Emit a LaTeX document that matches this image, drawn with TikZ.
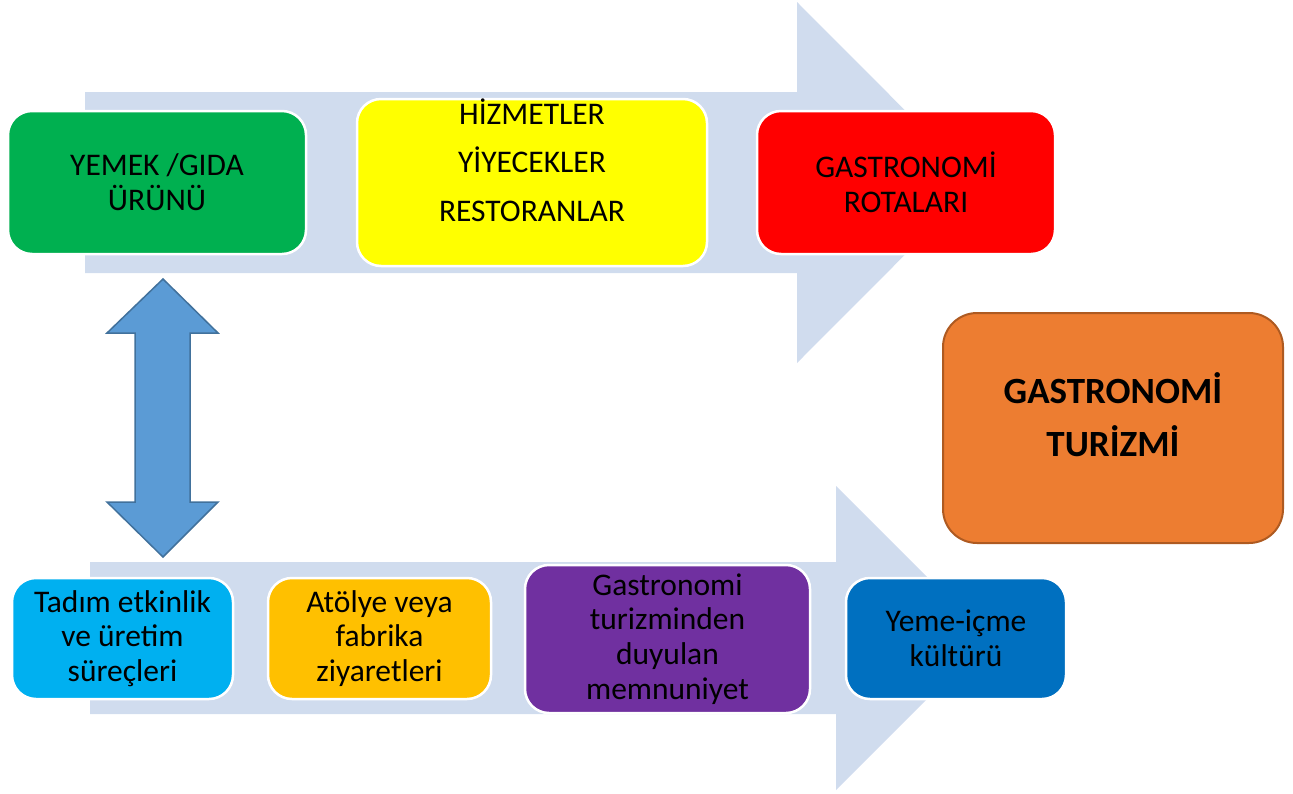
\documentclass[tikz,border=0pt]{standalone}
\usepackage{fontspec}
\setmainfont{Carlito}
\usetikzlibrary{calc}
\begin{document}
\begin{tikzpicture}[x=1pt,y=-1pt,
  bandfill/.style={fill={rgb,255:red,208;green,220;blue,238}},
  box/.style={rounded corners=24pt, draw=white, line width=2.5pt, inner sep=0pt,
     align=center, text=black, font=\fontsize{31.5}{34.8}\selectfont},
  txt/.style={inner sep=0pt, align=center, text=black},
  dblarrow/.style={fill={rgb,255:red,91;green,155;blue,213}, draw={rgb,255:red,65;green,113;blue,156}, line width=1.5pt, line join=miter}
]
\useasboundingbox (0,0) rectangle (1293,793);
% background band arrows
\fill[bandfill] (85,92) -- (797,92) -- (797,2) -- (977,182.5) -- (797,363) -- (797,273) -- (85,273) -- cycle;
\fill[bandfill] (90,562) -- (836,562) -- (836,486) -- (988,638) -- (836,790) -- (836,714) -- (90,714) -- cycle;

% top row
\node[box, fill={rgb,255:red,0;green,176;blue,80}, minimum width=298pt, minimum height=143pt] (yemek) at (157,182.5) {YEMEK /GIDA\\ÜRÜNÜ};
\node[box, fill={rgb,255:red,255;green,255;blue,0}, minimum width=350pt, minimum height=167pt] (hizmet) at (532,182.5) {};
\node[txt, font=\fontsize{31.5}{48.5}\selectfont] (hizmettxt) at (532,160) {HİZMETLER\\YİYECEKLER\\RESTORANLAR};
\node[box, fill={rgb,255:red,255;green,0;blue,0}, minimum width=298pt, minimum height=143pt] (rota) at (906,182.5) {GASTRONOMİ\\ROTALARI};

% main box
\node[box, rounded corners=34pt, fill={rgb,255:red,237;green,125;blue,49}, draw={rgb,255:red,174;green,90;blue,33}, line width=2pt, minimum width=340pt, minimum height=230pt] (turizm) at (1113,428) {};
\node[txt, font=\bfseries\fontsize{37}{53}\selectfont] (turizmtxt) at (1113,415) {GASTRONOMİ\\TURİZMİ};

% bottom row
\node[box, fill={rgb,255:red,0;green,176;blue,240}, minimum width=221pt, minimum height=121pt] (tadim) at (122.5,638.5) {Tadım etkinlik\\ve üretim\\süreçleri};
\node[box, fill={rgb,255:red,255;green,192;blue,0}, minimum width=223pt, minimum height=121pt] (atolye) at (379.5,638.5) {Atölye veya\\fabrika\\ziyaretleri};
\node[box, fill={rgb,255:red,112;green,48;blue,160}, minimum width=285pt, minimum height=148pt] (memnun) at (667.5,639) {Gastronomi\\turizminden\\duyulan\\memnuniyet};
\node[box, fill={rgb,255:red,0;green,112;blue,192}, minimum width=220pt, minimum height=121pt] (kultur) at (956,638.5) {Yeme-içme\\kültürü};

% double arrow between YEMEK and Tadim
\coordinate (dtop) at (163,279);
\coordinate (dbot) at (163,557);
\draw[dblarrow] (dtop) -- ++(55,54) -- ++(-28,0) -- ($(dbot)+(27,-55)$) -- ++(28,0) -- (dbot) -- ++(-56,-55) -- ++(28,0) -- ($(dtop)+(-28,54)$) -- ++(-28,0) -- cycle;
\end{tikzpicture}
\end{document}
